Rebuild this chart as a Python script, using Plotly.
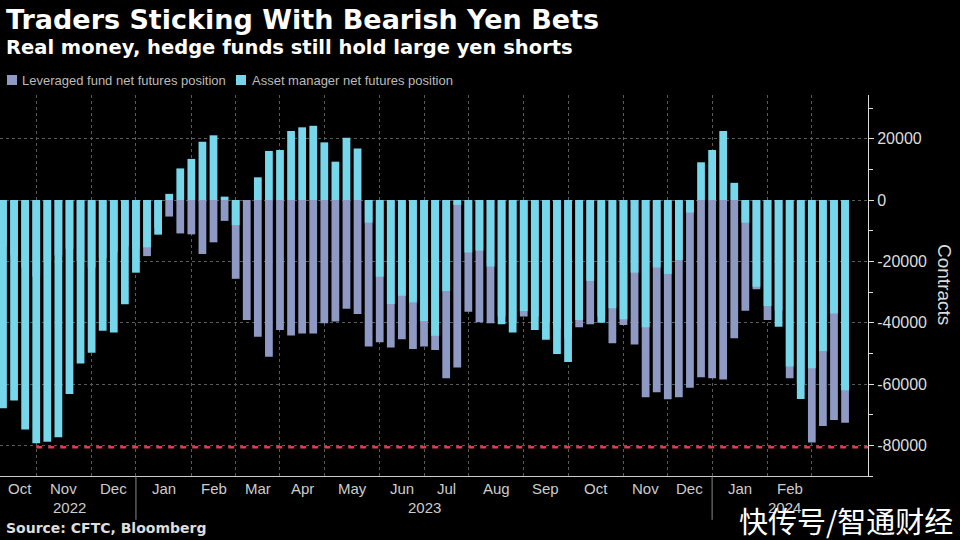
import pandas as pd
import plotly.graph_objects as go

# ---- data (weekly CFTC positions, contracts) ----
weeks = pd.date_range("2022-10-11", periods=77, freq="7D")

leveraged = [
    -15000, -18000, -22000, -25000, -20000, -18000, -16000, -20000, -22000, -19000,
    -17000, -15000, -16000, -18300, -9000, -5400, -10900, -11200, -17600, -13800,
    -6800, -25700, -39100, -44600, -51100, -42400, -44200, -43500, -43500, -40200,
    -39600, -35500, -37200, -47800, -46400, -48100, -45400, -48600, -47800, -48900,
    -58100, -54600, -36400, -39900, -40200, -38000, -40000, -38000, -38000, -40000,
    -42000, -45000, -41500, -40500, -38000, -46700, -40800, -47100, -64300, -62700,
    -65000, -64300, -61200, -57800, -58100, -58500, -45100, -36100, -29100, -39100,
    -36000, -58100, -60000, -79100, -73700, -71700, -72600,
]

asset_mgr = [
    -67900, -65400, -74800, -79300, -78800, -77400, -63300, -53300, -49800, -42600,
    -43200, -34000, -23700, -15400, -11300, 2000, 10300, 13400, 19000, 21100,
    1100, -8200, 0, 7400, 16000, 16300, 22500, 23700, 24200, 18800,
    12500, 20300, 16800, -7400, -25000, -33900, -31200, -33400, -39500, -44300,
    -29700, -1600, -17100, -16500, -21700, -40500, -43200, -36200, -42400, -45600,
    -50200, -52800, -39100, -26400, -40000, -35300, -38900, -23700, -41500, -22000,
    -24100, -19600, -4100, 12300, 16300, 22500, 5600, -7400, -28300, -34600,
    -41300, -54300, -64900, -54900, -49200, -37000, -62000,
]

reference_level = -80600          # red dashed line
reference_start = 3               # week index where dashed line begins

y_tick_vals = [-80000, -60000, -40000, -20000, 0, 20000]
y_tick_text = [str(v) for v in y_tick_vals]

series_names = ["Leveraged fund net futures position", "Asset manager net futures position"]
title = "Traders Sticking With Bearish Yen Bets"
subtitle = "Real money, hedge funds still hold large yen shorts"
source = "Source: CFTC, Bloomberg"
watermark = "快传号/智通财经"

# ---- derived positions ----
x = list(range(len(weeks)))
month_starts = [i for i in range(1, len(weeks)) if weeks[i].month != weeks[i - 1].month]
bounds = [0] + month_starts
month_label_pos = [(bounds[k] + bounds[k + 1]) / 2 for k in range(len(bounds) - 1)]
month_label_txt = [weeks[bounds[k]].strftime("%b") for k in range(len(bounds) - 1)]
year_starts = [i for i in month_starts if weeks[i].month == 1]
year_bounds = [0] + year_starts + [len(weeks)]
year_pos = [(year_bounds[k] + year_bounds[k + 1]) / 2 for k in range(len(year_bounds) - 1)]
year_txt = [str(weeks[year_bounds[k]].year) for k in range(len(year_bounds) - 1)]

GREY = "#8e9ac4"
CYAN = "#76d6ea"
FONT = "Liberation Sans"
BOLD = "DejaVu Sans"

ML, MR, MT, MB = 0, 92, 95, 64
W_PLOT = 960 - ML - MR
H_PLOT = 540 - MT - MB


def px(xp, yp):
    return (xp - ML) / W_PLOT, (540 - MB - yp) / H_PLOT


fig = go.Figure()
fig.add_trace(go.Bar(x=x, y=leveraged, name=series_names[0],
                     marker=dict(color=GREY, line=dict(width=0)), width=0.7))
fig.add_trace(go.Bar(x=x, y=asset_mgr, name=series_names[1],
                     marker=dict(color=CYAN, line=dict(width=0)), width=0.7))

fig.update_layout(
    width=960, height=540,
    barmode="overlay",
    paper_bgcolor="#000000", plot_bgcolor="#000000",
    margin=dict(l=ML, r=MR, t=MT, b=MB, autoexpand=False),
    font=dict(family=FONT, color="#dddddd"),
    showlegend=False,
    xaxis=dict(range=[-0.27, 78.07], tickmode="array", tickvals=month_starts,
               ticktext=[""] * len(month_starts), showgrid=True, gridcolor="#5a5a5a",
               griddash="dot", gridwidth=1, showline=True, linecolor="#cccccc",
               linewidth=1, zeroline=False, ticks=""),
    yaxis=dict(side="right", range=[-90000, 34240], tickmode="array", tickvals=y_tick_vals,
               ticktext=y_tick_text,
               showgrid=True, gridcolor="#5a5a5a", griddash="dot", zeroline=False,
               showline=True, linecolor="#dddddd", linewidth=1, ticks="outside",
               ticklen=5, tickcolor="#dddddd", tickfont=dict(size=16, color="#dddddd"),
               minor=dict(dtick=10000, tick0=0, ticks="outside", ticklen=4,
                          tickcolor="#dddddd", showgrid=False)),
)

# red dashed reference line
fig.add_shape(type="line", xref="x", yref="y", x0=reference_start, x1=78.07,
              y0=reference_level, y1=reference_level,
              line=dict(color="#d8404c", width=2.5, dash="6px,6px"))

# year separators
for ys in year_starts:
    fig.add_shape(type="line", xref="x", yref="paper", x0=ys, x1=ys, y0=0, y1=-0.115,
                  line=dict(color="#888888", width=1))

anns = []
# custom legend (squares + labels)
for (sx, tx), col, name in zip([(7, 20), (236, 250)], [GREY, CYAN], series_names):
    x0, y0 = px(sx, 85)
    x1, y1 = px(sx + 10, 75)
    fig.add_shape(type="rect", xref="paper", yref="paper", x0=x0, x1=x1, y0=y0, y1=y1,
                  fillcolor=col, line=dict(width=0))
    xx, yy = px(tx, 80)
    anns.append(dict(x=xx, y=yy, xref="paper", yref="paper", text=name, showarrow=False,
                     xanchor="left", yanchor="middle",
                     font=dict(size=13, color="#bbbbbb", family=FONT)))

for p, t in zip(month_label_pos, month_label_txt):
    anns.append(dict(x=p, y=0, xref="x", yref="paper", text=t, showarrow=False,
                     yanchor="top", yshift=-2, font=dict(size=15, color="#cccccc")))
for p, t in zip(year_pos, year_txt):
    anns.append(dict(x=p, y=0, xref="x", yref="paper", text=t, showarrow=False,
                     yanchor="top", yshift=-21, font=dict(size=15, color="#cccccc")))

heads = [
    (title, 4, 19, 27, "#ffffff"),
    (subtitle, 4, 47, 19.5, "#ffffff"),
    (source, 4, 528, 14, "#dddddd"),
]
for text, xp, yp, size, col in heads:
    xx, yy = px(xp, yp)
    anns.append(dict(x=xx, y=yy, xref="paper", yref="paper", text=f"<b>{text}</b>",
                     showarrow=False, xanchor="left", yanchor="middle",
                     font=dict(size=size, color=col, family=BOLD)))
xx, yy = px(955, 520)
anns.append(dict(x=xx, y=yy, xref="paper", yref="paper", text=watermark, showarrow=False,
                 xanchor="right", yanchor="middle",
                 font=dict(size=29, color="#ffffff", family="Noto Sans CJK SC")))
xx, yy = px(945, 285)
anns.append(dict(x=xx, y=yy, xref="paper", yref="paper", text="Contracts", showarrow=False,
                 textangle=90, xanchor="center", yanchor="middle",
                 font=dict(size=19, color="#dddddd")))
fig.update_layout(annotations=anns)

fig.write_html("out.html", config={"displayModeBar": False},
               post_script="document.body.style.margin='0';document.body.style.overflow='hidden';")
